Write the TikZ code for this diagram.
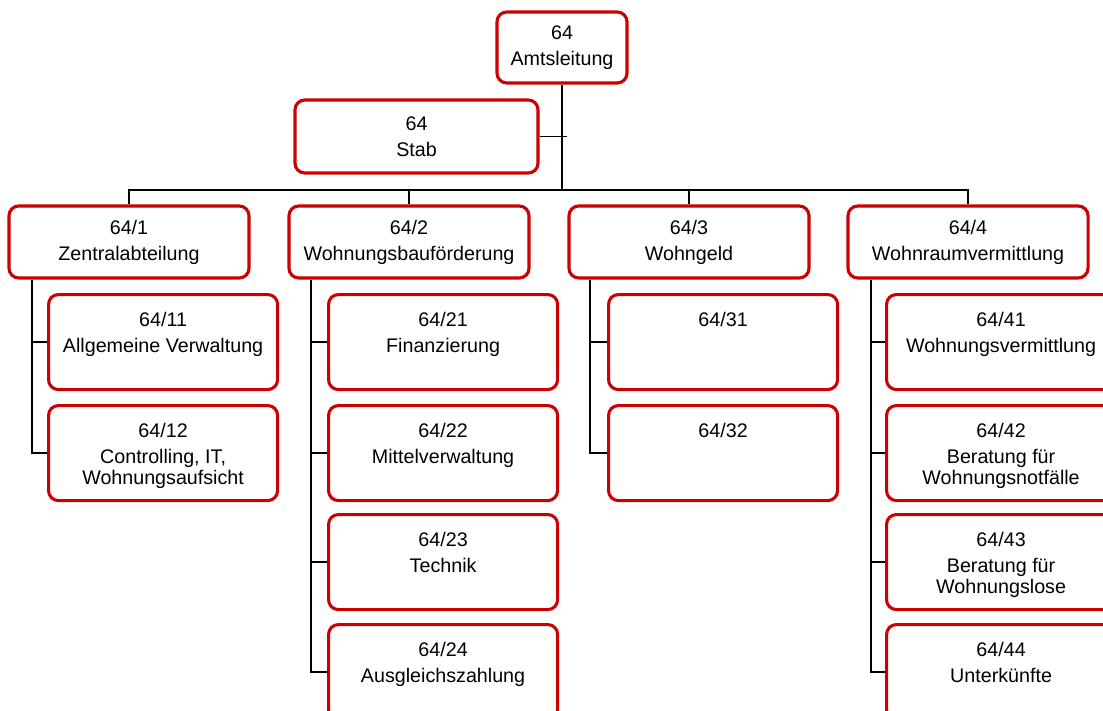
\documentclass[tikz,border=0pt]{standalone}
\usepackage{fontspec}
\setmainfont{Liberation Sans}
\usepackage{tikz}
\definecolor{boxred}{RGB}{204,0,0}
\newcommand{\subtext}[1]{\parbox[c][2.375cm][t]{5.725cm}{\centering\rule{0pt}{22.7pt}#1}}

\begin{document}
\begin{tikzpicture}[
    x=0.025cm, y=-0.025cm,
    unit/.style={draw=boxred, line width=2.2pt, rounded corners=7pt, fill=white, align=center, inner sep=0pt, font=\fontsize{14}{15}\selectfont},
    dept/.style={unit, minimum width=6cm, minimum height=1.8cm},
    sub/.style={unit, anchor=north west},
    conn/.style={line width=1.1pt, black}
]
\useasboundingbox (0,0) rectangle (1103,710);
\clip (0,0) rectangle (1103,710);

\node[unit, minimum width=3.25cm, minimum height=1.775cm] (amt) at (562,47.5) {64\\[3.5pt]Amtsleitung};
\node[unit, minimum width=6.075cm, minimum height=1.825cm] (stab) at (416.5,136.5) {64\\[3.5pt]Stab};

\node[dept] (z1) at (129,242) {64/1\\[3.5pt]Zentralabteilung};
\node[dept] (z2) at (409,242) {64/2\\[3.5pt]Wohnungsbauförderung};
\node[dept] (z3) at (689,242) {64/3\\[3.5pt]Wohngeld};
\node[dept] (z4) at (968,242) {64/4\\[3.5pt]Wohnraumvermittlung};

\node[sub] (w11) at (47,293) {\subtext{64/11\\[3.5pt]Allgemeine Verwaltung}};
\node[sub] (w12) at (47,404) {\subtext{64/12\\[3.5pt]Controlling, IT,\\Wohnungsaufsicht}};

\node[sub] (w21) at (327,293) {\subtext{64/21\\[3.5pt]Finanzierung}};
\node[sub] (w22) at (327,404) {\subtext{64/22\\[3.5pt]Mittelverwaltung}};
\node[sub] (w23) at (327,513) {\subtext{64/23\\[3.5pt]Technik}};
\node[sub] (w24) at (327,623) {\subtext{64/24\\[3.5pt]Ausgleichszahlung}};

\node[sub] (w31) at (607,293) {\subtext{64/31}};
\node[sub] (w32) at (607,404) {\subtext{64/32}};

\node[sub] (w41) at (885,293) {\subtext{64/41\\[3.5pt]Wohnungsvermittlung}};
\node[sub] (w42) at (885,404) {\subtext{64/42\\[3.5pt]Beratung für\\Wohnungsnotfälle}};
\node[sub] (w43) at (885,513) {\subtext{64/43\\[3.5pt]Beratung für\\Wohnungslose}};
\node[sub] (w44) at (885,623) {\subtext{64/44\\[3.5pt]Unterkünfte}};

% bus and stab tick
\coordinate (bus) at (562,190);
\coordinate (tick) at (567,137);
\draw[conn] (amt.south) -- (bus);
\draw[conn] (stab.east) -- (stab.east -| tick);
\draw[conn] (z1.north) |- (bus) -| (z4.north);
\draw[conn] (z2.north) -- (z2.north |- bus);
\draw[conn] (z3.north) -- (z3.north |- bus);

% spines
\coordinate (sp1) at (32,0);
\coordinate (sp2) at (311,0);
\coordinate (sp3) at (590,0);
\coordinate (sp4) at (871,0);

\draw[conn] (z1.south -| sp1) |- (w12.west);
\draw[conn] (sp1 |- w11.west) -- (w11.west);

\draw[conn] (z2.south -| sp2) |- (w24.west);
\draw[conn] (sp2 |- w21.west) -- (w21.west);
\draw[conn] (sp2 |- w22.west) -- (w22.west);
\draw[conn] (sp2 |- w23.west) -- (w23.west);

\draw[conn] (z3.south -| sp3) |- (w32.west);
\draw[conn] (sp3 |- w31.west) -- (w31.west);

\draw[conn] (z4.south -| sp4) |- (w44.west);
\draw[conn] (sp4 |- w41.west) -- (w41.west);
\draw[conn] (sp4 |- w42.west) -- (w42.west);
\draw[conn] (sp4 |- w43.west) -- (w43.west);

\end{tikzpicture}
\end{document}
